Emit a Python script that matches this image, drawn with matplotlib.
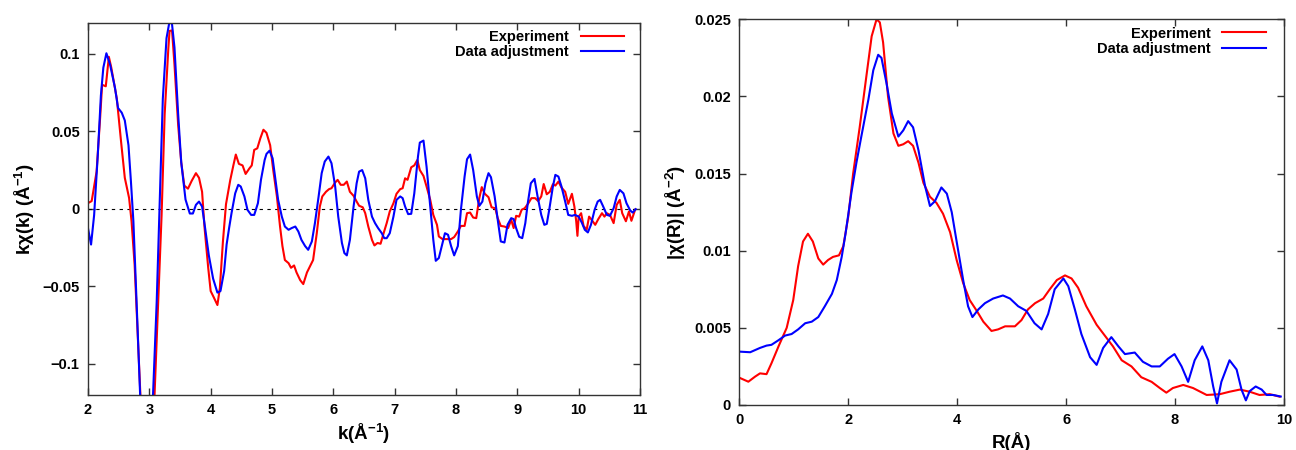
#!/usr/bin/env python
# -*- coding:utf-8 -*-

# EXAFS plot: k-space chi(k) and its Fourier transform |chi(R)|

import matplotlib
matplotlib.use('Agg')
import matplotlib.pyplot as plt

# ---- k space (left panel) ----
k_exp = [2.0, 2.06, 2.14, 2.2, 2.23, 2.29, 2.34, 2.38, 2.47, 2.54, 2.6, 2.67, 2.71, 2.76, 2.82, 2.86, 2.96, 3.08,
	3.14, 3.2, 3.25, 3.31, 3.33, 3.37, 3.41, 3.47, 3.52, 3.57, 3.63, 3.69, 3.76, 3.81, 3.86, 3.9, 3.96, 4.0,
	4.05, 4.11, 4.15, 4.2, 4.25, 4.32, 4.37, 4.41, 4.46, 4.52, 4.57, 4.63, 4.67, 4.71, 4.76, 4.81, 4.86, 4.91,
	4.97, 5.02, 5.08, 5.13, 5.17, 5.21, 5.27, 5.31, 5.36, 5.4, 5.46, 5.51, 5.57, 5.62, 5.67, 5.73, 5.78, 5.82,
	5.88, 5.93, 5.97, 6.03, 6.07, 6.12, 6.17, 6.22, 6.27, 6.33, 6.38, 6.42, 6.48, 6.52, 6.57, 6.63, 6.67, 6.72,
	6.77, 6.82, 6.87, 6.92, 6.98, 7.03, 7.09, 7.13, 7.17, 7.21, 7.27, 7.32, 7.37, 7.41, 7.47, 7.52, 7.58, 7.63,
	7.69, 7.72, 7.78, 7.85, 7.92, 7.97, 8.03, 8.08, 8.14, 8.18, 8.23, 8.28, 8.33, 8.38, 8.42, 8.47, 8.53, 8.58,
	8.64, 8.68, 8.73, 8.79, 8.85, 8.9, 8.94, 8.98, 9.03, 9.07, 9.12, 9.18, 9.23, 9.29, 9.34, 9.39, 9.43, 9.48,
	9.53, 9.58, 9.62, 9.67, 9.72, 9.78, 9.83, 9.89, 9.93, 9.96, 9.98, 10.0, 10.04, 10.08, 10.13, 10.17, 10.21,
	10.27, 10.32, 10.38, 10.42, 10.46, 10.51, 10.57, 10.62, 10.67, 10.71, 10.77, 10.82, 10.86, 10.92]
chi_exp = [0.0037, 0.005, 0.024, 0.06, 0.08, 0.079, 0.098, 0.091, 0.071, 0.043, 0.02, 0.007, -0.008, -0.036, -0.09,
	-0.125, -0.165, -0.125, -0.064, -0.004, 0.061, 0.1035, 0.1147, 0.115, 0.093, 0.054, 0.03, 0.015, 0.013, 0.018,
	0.023, 0.02, 0.011, -0.012, -0.038, -0.053, -0.057, -0.062, -0.051, -0.021, 0.003, 0.0187, 0.028, 0.035, 0.029,
	0.028, 0.0225, 0.026, 0.028, 0.038, 0.039, 0.0455, 0.051, 0.049, 0.041, 0.025, 0.008, -0.011, -0.024, -0.033,
	-0.035, -0.038, -0.0365, -0.041, -0.046, -0.0485, -0.041, -0.037, -0.033, -0.0157, 0.0015, 0.008, 0.011, 0.0127,
	0.0133, 0.017, 0.0187, 0.0155, 0.0155, 0.0176, 0.011, 0.0084, 0.0047, 0.002, 0.001, -0.0028, -0.0114, -0.02,
	-0.0236, -0.022, -0.0225, -0.0157, -0.0092, -0.0017, 0.0036, 0.0097, 0.0127, 0.0133, 0.0197, 0.0187, 0.0268,
	0.028, 0.0315, 0.025, 0.0212, 0.0144, 0.0058, -0.0039, -0.0103, -0.0178, -0.0195, -0.0195, -0.0195, -0.0182,
	-0.0146, -0.011, -0.011, -0.0028, -0.0024, -0.0056, -0.006, 0.0069, 0.014, 0.0097, 0.0075, 0.001, 0.0004,
	-0.006, -0.011, -0.0114, -0.0124, -0.007, -0.0124, -0.0045, -0.005, -0.0006, 0.0004, 0.0036, 0.0069, 0.0069,
	0.005, 0.008, 0.016, 0.0094, 0.011, 0.0159, 0.015, 0.0176, 0.0137, 0.011, 0.0032, 0.0097, 0.0015, -0.008,
	-0.0174, -0.005, -0.0028, -0.011, -0.0135, -0.005, -0.007, -0.0103, -0.0066, -0.0028, -0.005, -0.0028, -0.0039,
	-0.0092, 0.0026, 0.0058, -0.0028, -0.008, -0.0017, -0.0077, -0.0006]

k_fit = [2.0, 2.05, 2.1, 2.16, 2.21, 2.25, 2.3, 2.36, 2.44, 2.49, 2.55, 2.6, 2.66, 2.7, 2.74, 2.79, 2.85, 2.95, 3.06,
	3.12, 3.17, 3.22, 3.28, 3.33, 3.37, 3.41, 3.47, 3.52, 3.59, 3.66, 3.71, 3.76, 3.81, 3.86, 3.91, 3.97, 4.04,
	4.11, 4.16, 4.22, 4.26, 4.3, 4.34, 4.4, 4.45, 4.49, 4.55, 4.6, 4.66, 4.71, 4.77, 4.82, 4.88, 4.91, 4.96, 5.01,
	5.05, 5.1, 5.16, 5.21, 5.27, 5.32, 5.38, 5.43, 5.48, 5.54, 5.59, 5.65, 5.7, 5.76, 5.81, 5.86, 5.92, 5.97, 6.03,
	6.08, 6.14, 6.18, 6.22, 6.27, 6.33, 6.38, 6.42, 6.47, 6.52, 6.57, 6.63, 6.68, 6.73, 6.79, 6.83, 6.87, 6.92,
	6.98, 7.03, 7.09, 7.13, 7.17, 7.22, 7.27, 7.32, 7.38, 7.41, 7.47, 7.52, 7.58, 7.63, 7.67, 7.72, 7.78, 7.82,
	7.87, 7.92, 7.97, 8.03, 8.08, 8.14, 8.18, 8.23, 8.28, 8.34, 8.38, 8.43, 8.48, 8.53, 8.57, 8.63, 8.68, 8.73,
	8.79, 8.84, 8.9, 8.94, 8.98, 9.03, 9.08, 9.13, 9.17, 9.22, 9.28, 9.33, 9.39, 9.44, 9.48, 9.52, 9.58, 9.62,
	9.67, 9.72, 9.78, 9.83, 9.89, 9.94, 10.0, 10.05, 10.1, 10.15, 10.2, 10.26, 10.31, 10.35, 10.4, 10.46, 10.51,
	10.57, 10.62, 10.67, 10.73, 10.78, 10.84, 10.88, 10.93]
chi_fit = [-0.0125, -0.023, -0.004, 0.035, 0.073, 0.091, 0.1003, 0.093, 0.078, 0.065, 0.062, 0.057, 0.041, 0.0176,
	-0.008, -0.058, -0.12, -0.16, -0.12, -0.06, 0.005, 0.071, 0.11, 0.121, 0.119, 0.104, 0.061, 0.03, 0.006, -0.003,
	-0.003, 0.0026, 0.0047, 0.0015, -0.0125, -0.03, -0.045, -0.054, -0.053, -0.04, -0.023, -0.0125, -0.0028, 0.01,
	0.0155, 0.0144, 0.008, -0.0006, -0.0039, -0.0039, 0.0036, 0.0187, 0.0315, 0.0354, 0.0375, 0.0326, 0.0208,
	0.0058, -0.005, -0.0114, -0.0135, -0.0124, -0.0114, -0.0146, -0.02, -0.024, -0.0264, -0.021, -0.0092, 0.008,
	0.023, 0.0305, 0.0337, 0.0294, 0.0144, -0.005, -0.022, -0.0285, -0.03, -0.02, 0.0015, 0.0165, 0.024, 0.025,
	0.0197, 0.0058, -0.005, -0.0092, -0.0124, -0.0157, -0.0189, -0.0189, -0.0157, -0.005, 0.0058, 0.008, 0.0069,
	0.0015, -0.0034, -0.0032, 0.01, 0.0337, 0.0427, 0.044, 0.0272, 0.0015, -0.02, -0.0335, -0.0317, -0.022, -0.0157,
	-0.0167, -0.024, -0.03, -0.024, -0.0006, 0.0208, 0.032, 0.035, 0.025, 0.008, 0.0019, 0.0047, 0.0165, 0.023,
	0.0204, 0.008, -0.007, -0.021, -0.0217, -0.0103, -0.006, -0.0066, -0.0124, -0.018, -0.0189, -0.0092, 0.0036,
	0.0165, 0.0193, 0.008, -0.0039, -0.0103, -0.0097, -0.0006, 0.0144, 0.0219, 0.0208, 0.0144, 0.0047, -0.0039,
	-0.0045, -0.0039, -0.005, -0.0088, -0.0135, -0.0152, -0.0103, -0.0006, 0.0047, 0.0058, 0.0015, -0.0039, -0.0045,
	0.0004, 0.008, 0.0122, 0.01, 0.0036, -0.001, -0.0024, -0.0002]

# ---- R space (right panel) ----
r_exp = [0.0, 0.166, 0.29, 0.38, 0.5, 0.59, 0.72, 0.87, 0.99, 1.08, 1.17, 1.26, 1.35, 1.45, 1.54, 1.63, 1.72, 1.83,
	1.91, 2.0, 2.09, 2.21, 2.34, 2.43, 2.52, 2.58, 2.64, 2.73, 2.83, 2.92, 3.01, 3.1, 3.19, 3.29, 3.38, 3.5, 3.62,
	3.74, 3.87, 3.99, 4.11, 4.23, 4.36, 4.48, 4.63, 4.75, 4.88, 5.06, 5.18, 5.3, 5.43, 5.58, 5.7, 5.83, 5.98, 6.1,
	6.22, 6.37, 6.56, 6.71, 6.86, 7.02, 7.2, 7.38, 7.57, 7.72, 7.84, 7.96, 8.15, 8.33, 8.58, 8.82, 9.0, 9.19, 9.37,
	9.55, 9.74, 9.92]
ft_exp = [0.00177, 0.00151, 0.00184, 0.00205, 0.0020, 0.0027, 0.0038, 0.005, 0.0068, 0.009, 0.0106, 0.0111, 0.0106,
	0.0095, 0.0091, 0.0094, 0.0096, 0.0097, 0.0103, 0.0122, 0.015, 0.018, 0.0215, 0.0239, 0.025, 0.0248, 0.0235,
	0.02, 0.0176, 0.0168, 0.0169, 0.0171, 0.0168, 0.0157, 0.0144, 0.0135, 0.0131, 0.0124, 0.0112, 0.0094, 0.0079,
	0.0068, 0.0061, 0.0054, 0.0048, 0.0049, 0.0051, 0.0051, 0.0055, 0.0062, 0.0066, 0.0069, 0.0075, 0.0081, 0.0084,
	0.0082, 0.0076, 0.0064, 0.0052, 0.0045, 0.0038, 0.0029, 0.0025, 0.0018, 0.0015, 0.0011, 0.0008, 0.0011, 0.0013,
	0.0011, 0.00065, 0.0007, 0.00086, 0.001, 0.00086, 0.00065, 0.0007, 0.00054]

r_fit = [0.0, 0.2, 0.38, 0.5, 0.59, 0.72, 0.84, 0.96, 1.08, 1.21, 1.33, 1.45, 1.57, 1.7, 1.79, 1.88, 1.95, 2.06,
	2.15, 2.24, 2.37, 2.46, 2.55, 2.61, 2.7, 2.8, 2.92, 3.01, 3.1, 3.19, 3.29, 3.41, 3.5, 3.59, 3.71, 3.81, 3.9,
	3.99, 4.11, 4.2, 4.28, 4.39, 4.51, 4.66, 4.84, 4.97, 5.12, 5.27, 5.42, 5.55, 5.67, 5.79, 5.95, 6.04, 6.16,
	6.28, 6.44, 6.56, 6.68, 6.83, 6.96, 7.08, 7.26, 7.41, 7.57, 7.72, 7.87, 7.99, 8.12, 8.24, 8.36, 8.5, 8.61,
	8.7, 8.77, 8.85, 9.0, 9.13, 9.22, 9.3, 9.37, 9.48, 9.59, 9.68, 9.8, 9.94]
ft_fit = [0.00346, 0.00342, 0.0037, 0.00385, 0.0039, 0.0042, 0.0045, 0.0046, 0.0049, 0.0053, 0.0054, 0.0057, 0.0064,
	0.0072, 0.0081, 0.0096, 0.0111, 0.0138, 0.0157, 0.0174, 0.0198, 0.0217, 0.0227, 0.0225, 0.0209, 0.0189, 0.0174,
	0.0178, 0.0184, 0.018, 0.0165, 0.0142, 0.0129, 0.0132, 0.0141, 0.0137, 0.0125, 0.0106, 0.0081, 0.0064, 0.0057,
	0.0062, 0.0066, 0.0069, 0.0071, 0.0069, 0.0064, 0.0061, 0.0053, 0.0049, 0.0059, 0.0075, 0.0082, 0.0077, 0.0062,
	0.0046, 0.0031, 0.0026, 0.0037, 0.0044, 0.0038, 0.0033, 0.0034, 0.0028, 0.0025, 0.0025, 0.003, 0.0033, 0.0025,
	0.0015, 0.0029, 0.0038, 0.0029, 0.0012, 0.0001, 0.0015, 0.0029, 0.0023, 0.001, 0.0003, 0.0009, 0.0012, 0.001,
	0.00065, 0.00065, 0.00055]

k_ticks = [2, 3, 4, 5, 6, 7, 8, 9, 10, 11]
chi_ticks = [-0.1, -0.05, 0, 0.05, 0.1]
chi_ticklabels = ['\u22120.1', '\u22120.05', '0', '0.05', '0.1']
r_ticks = [0, 2, 4, 6, 8, 10]
ft_ticks = [0, 0.005, 0.01, 0.015, 0.02, 0.025]
ft_ticklabels = ['0', '0.005', '0.01', '0.015', '0.02', '0.025']
labels = ['Experiment', 'Data adjustment']

plt.rcParams['font.family'] = ['Liberation Sans', 'DejaVu Sans']
plt.rcParams['font.weight'] = 'bold'
plt.rcParams['axes.labelweight'] = 'bold'
plt.rcParams['mathtext.fontset'] = 'custom'
plt.rcParams['mathtext.rm'] = 'Liberation Sans:bold'
plt.rcParams['mathtext.bf'] = 'Liberation Sans:bold'
plt.rcParams['mathtext.default'] = 'bf'


def style_axes(ax):
	for s in ax.spines.values():
		s.set_linewidth(1.0)
		s.set_color('#333333')
	ax.tick_params(direction='in', top=True, right=True, length=5, width=1.0,
		labelsize=10.5, pad=6, color='#333333')


def graph():
	fig = plt.figure(figsize=(12.96, 4.5), dpi=100)
	W, H = 1296.0, 450.0

	p1 = fig.add_axes([88 / W, (H - 395) / H, (640 - 88) / W, (395 - 22.7) / H])
	p1.axhline(0, color='black', lw=0.8, ls=(0, (3, 4)))
	p1.plot(k_exp, chi_exp, color='#ff0000', lw=1.5, label=labels[0])
	p1.plot(k_fit, chi_fit, color='#0000ff', lw=1.5, label=labels[1])
	p1.set_xlim(2, 11)
	p1.set_ylim(-0.12, 0.12)
	p1.set_xticks(k_ticks)
	p1.set_xticklabels([str(t) for t in k_ticks])
	p1.set_yticks(chi_ticks)
	p1.set_yticklabels(chi_ticklabels)
	p1.set_xlabel('k(\u00c5$^{-1}$)', fontsize=13.5, labelpad=3)
	p1.set_ylabel('k\u03c7(k) (\u00c5$^{-1}$)', fontsize=13.5, labelpad=4)
	style_axes(p1)
	p1.legend(loc='upper right', bbox_to_anchor=(0.985, 1.0), frameon=False, markerfirst=False,
		fontsize=10.5, handlelength=3.0, handletextpad=0.8, labelspacing=0.1, borderaxespad=0.1)

	p2 = fig.add_axes([739.3 / W, (H - 405) / H, (1284 - 739.3) / W, (405 - 19.3) / H])
	p2.plot(r_exp, ft_exp, color='#ff0000', lw=1.5, label=labels[0])
	p2.plot(r_fit, ft_fit, color='#0000ff', lw=1.5, label=labels[1])
	p2.set_xlim(0, 10)
	p2.set_ylim(0, 0.025)
	p2.set_xticks(r_ticks)
	p2.set_xticklabels([str(t) for t in r_ticks])
	p2.set_yticks(ft_ticks)
	p2.set_yticklabels(ft_ticklabels)
	p2.set_xlabel('R(\u00c5)', fontsize=13.5, labelpad=3)
	p2.set_ylabel('|\u03c7(R)| (\u00c5$^{-2}$)', fontsize=13.5, labelpad=4)
	style_axes(p2)
	p2.legend(loc='upper right', bbox_to_anchor=(0.98, 1.0), frameon=False, markerfirst=False,
		fontsize=10.5, handlelength=3.0, handletextpad=0.8, labelspacing=0.1, borderaxespad=0.1)

	fig.savefig('out.png', dpi=100)


if __name__ == '__main__':
	graph()
